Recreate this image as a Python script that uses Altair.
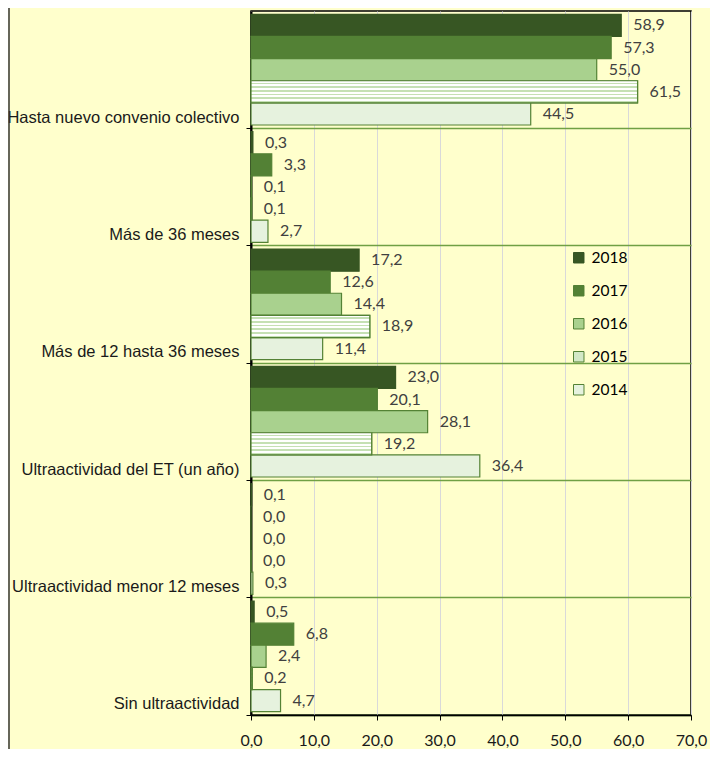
import altair as alt
import pandas as pd

categories = [
    "Hasta nuevo convenio colectivo",
    "Más de 36 meses",
    "Más de 12 hasta 36 meses",
    "Ultraactividad del ET (un año)",
    "Ultraactividad menor 12 meses",
    "Sin ultraactividad",
]
years = ["2018", "2017", "2016", "2015", "2014"]
v2018 = [58.9, 0.3, 17.2, 23.0, 0.1, 0.5]
v2017 = [57.3, 3.3, 12.6, 20.1, 0.0, 6.8]
v2016 = [55.0, 0.1, 14.4, 28.1, 0.0, 2.4]
v2015 = [61.5, 0.1, 18.9, 19.2, 0.0, 0.2]
v2014 = [44.5, 2.7, 11.4, 36.4, 0.3, 4.7]
x_ticks = [0, 10, 20, 30, 40, 50, 60, 70]

series = dict(zip(years, [v2018, v2017, v2016, v2015, v2014]))
rows = []
for y in years:
    for c, v in zip(categories, series[y]):
        rows.append({"cat": c, "year": y, "value": v,
                     "label": f"{v:.1f}".replace(".", ",")})
df = pd.DataFrame(rows)

fill_colors = ["#375623", "#538135", "#A9D18E", "#D3E8C6", "#E6F2DE"]
stroke_colors = ["#375623", "#538135", "#548235", "#548235", "#548235"]

font_num = "Lato"
font_cat = "Liberation Sans, Arial, sans-serif"

y_enc = alt.Y("cat:N", sort=categories, title=None,
              scale=alt.Scale(paddingInner=0, paddingOuter=0),
              axis=alt.Axis(bandPosition=1, labelBaseline="middle", labelOffset=48,
                            labelFont=font_cat, labelFontSize=16.5, labelColor="#1a1a1a",
                            labelPadding=7, tickSize=5, tickColor="black",
                            domainColor="black", domainWidth=2,
                            grid=True, gridColor="#70A044", gridWidth=1.5,
                            labelLimit=400))
yoff_enc = alt.YOffset("year:N", sort=years,
                       scale=alt.Scale(paddingInner=0, paddingOuter=0.15))
x_enc = alt.X("value:Q", title=None,
              scale=alt.Scale(domain=[0, 70], nice=False),
              axis=alt.Axis(values=x_ticks, labelFlush=False,
                            labelExpr="replace(format(datum.value, '.1f'), '.', ',')",
                            labelFont=font_num, labelFontSize=16, labelColor="#1a1a1a",
                            labelPadding=12, tickSize=5, tickColor="black",
                            domainColor="black", domainWidth=1.5,
                            grid=True, gridColor="#D9D9D9", gridWidth=1))

base = alt.Chart(df)

bars = base.mark_bar(strokeWidth=1.2).encode(
    x=x_enc,
    y=y_enc,
    yOffset=yoff_enc,
    fill=alt.Fill("year:N", sort=years,
                  scale=alt.Scale(domain=years, range=fill_colors),
                  legend=alt.Legend(title=None, orient="none", legendX=320, legendY=239,
                                    symbolType="square", symbolSize=110,
                                    symbolStrokeColor="#548235", symbolStrokeWidth=1,
                                    labelFont=font_num, labelFontSize=15.5, labelColor="black",
                                    rowPadding=16, labelOffset=5)),
    stroke=alt.Stroke("year:N", sort=years,
                      scale=alt.Scale(domain=years, range=stroke_colors), legend=None),
)

stops = []
n = 6
for i in range(n):
    a = i / n
    b = (i + 0.5) / n
    c = (i + 1) / n
    stops += [alt.GradientStop(offset=a, color="#FFFFFF"),
              alt.GradientStop(offset=b, color="#FFFFFF"),
              alt.GradientStop(offset=b, color="#C5E0B4"),
              alt.GradientStop(offset=c, color="#C5E0B4")]
stripe = alt.LinearGradient(gradient="linear", x1=0, y1=0, x2=0, y2=1, stops=stops)

stripes = base.transform_filter(alt.datum.year == "2015").mark_bar(
    fill=stripe, stroke="#548235", strokeWidth=1.2
).encode(x="value:Q", y=alt.Y("cat:N", sort=categories), yOffset=yoff_enc)

labels = base.mark_text(align="left", baseline="middle", dx=12,
                        font=font_num, fontSize=16, color="#404040").encode(
    x="value:Q", y=alt.Y("cat:N", sort=categories), yOffset=yoff_enc, text="label:N")

frame = alt.Chart(pd.DataFrame({"k": [0]})).mark_rule(color="#333333", strokeWidth=1.5).encode(
    x=alt.value(-242), y=alt.value(-3), y2=alt.value(738))

chart = alt.layer(bars, stripes, labels, frame).properties(
    width=440, height=704,
    background="#FFFFCC",
    padding={"left": 243, "top": 3, "right": 19, "bottom": 34},
    autosize=alt.AutoSizeParams(type="none"),
).configure_view(stroke="black", strokeWidth=1.5)

chart.save("out.html", embed_options={"renderer": "svg", "actions": False})
